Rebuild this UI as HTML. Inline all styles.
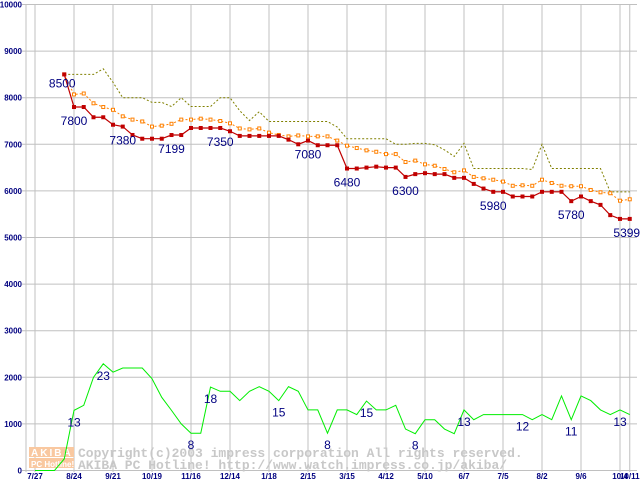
<!DOCTYPE html>
<html><head><meta charset="utf-8"><style>
html,body{margin:0;padding:0;background:#fff;}
svg{display:block;font-family:"Liberation Sans",sans-serif;}
</style></head><body>
<svg id="chart" width="640" height="480" viewBox="0 0 640 480" xmlns="http://www.w3.org/2000/svg">
<g id="grid"></g>
<g id="wm">
  <rect x="29" y="447" width="45" height="10" fill="#f9c8a0"/>
  <rect x="29" y="458" width="45" height="10" fill="#f9c8a0"/>
  <text x="31" y="456" font-size="10" font-weight="bold" fill="#fff" letter-spacing="2">AKIBA</text>
  <text x="31" y="467" font-size="8" font-weight="bold" fill="#fff">PC Hotline!</text>
  <text x="78" y="457" font-size="13" font-family="Liberation Mono, monospace" fill="#c8c8c8" font-weight="bold">Copyright(c)2003 impress corporation All rights reserved.</text>
  <text x="78" y="469" font-size="13" font-family="Liberation Mono, monospace" fill="#c8c8c8" font-weight="bold">AKIBA PC Hotline!  http://www.watch.impress.co.jp/akiba/</text>
</g>
<g id="series"></g>
<g id="labels"></g>
</svg>
<script>
const xTickWeeks = [0,4,8,12,16,20,24,28,32,36,40,44,48,52,56,60,61];
const xTickLabels = ["7/27","8/24","9/21","10/19","11/16","12/14","1/18","2/15","3/15","4/12","5/10","6/7","7/5","8/2","9/6","10/4","10/11"];
const yTicks = [0,1000,2000,3000,4000,5000,6000,7000,8000,9000,10000];
const lowStart = 3;
const lowPrice = [8500,7800,7800,7580,7580,7420,7380,7200,7120,7120,7120,7199,7199,7350,7350,7350,7350,7280,7180,7180,7180,7180,7180,7100,7000,7080,6980,6980,6980,6480,6480,6500,6520,6500,6500,6300,6360,6380,6360,6360,6280,6280,6150,6050,5980,5980,5880,5880,5880,5980,5980,5980,5780,5880,5780,5700,5480,5399,5399];
const avgPrice = [8500,8070,8090,7880,7800,7740,7600,7530,7490,7380,7400,7440,7530,7530,7550,7530,7500,7450,7340,7320,7340,7250,7200,7170,7190,7170,7170,7170,7080,6970,6920,6870,6840,6790,6790,6620,6650,6570,6540,6470,6400,6440,6300,6270,6240,6200,6110,6120,6110,6240,6170,6110,6100,6100,6020,5970,5950,5790,5820];
const highPrice = [8500,8500,8500,8500,8620,8330,8000,8000,8000,7900,7900,7810,8000,7810,7810,7810,8000,8000,7720,7510,7700,7490,7490,7490,7490,7490,7490,7490,7370,7120,7120,7120,7120,7120,7000,7000,7020,7020,6990,6880,6740,7020,6480,6480,6480,6480,6480,6480,6460,7000,6480,6480,6480,6480,6480,6480,5980,5980,5980];
const shopCount = [0,0,0,250,1290,1400,2000,2290,2110,2200,2200,2200,1970,1570,1290,1000,800,800,1790,1700,1700,1500,1700,1800,1700,1500,1800,1700,1300,1300,800,1300,1300,1200,1490,1300,1300,1400,890,790,1090,1090,890,790,1300,1090,1200,1200,1200,1200,1200,1090,1200,1090,1600,1090,1600,1500,1300,1200,1300,1200];
const priceLabelWeeks = [3,4,9,14,19,28,32,38,47,55,61];
const priceLabelText = ["8500","7800","7380","7199","7350","7080","6480","6300","5980","5780","5399"];
const countLabelWeeks = [4,7,16,18,25,30,34,39,44,50,55,60];
const countLabelText = ["13","23","8","18","15","8","15","8","13","12","11","13"];

const NS = "http://www.w3.org/2000/svg";
const X = w => 35 + 9.75 * w;
const Y = v => 4.5 + (10000 - v) * 0.0466;
function mk(tag, attrs, parent){const e=document.createElementNS(NS,tag);for(const k in attrs)e.setAttribute(k,attrs[k]);parent.appendChild(e);return e;}
const grid = document.getElementById('grid'), series = document.getElementById('series'), labels = document.getElementById('labels');

yTicks.forEach(v=>{
  const l = mk('line',{x1:22,x2:637,y1:Y(v),y2:Y(v),stroke:'#c0c0c0','stroke-width':1},grid);
  
  
  const t = mk('text',{x:22,y:Y(v)+3,'text-anchor':'end','font-size':8,'font-weight':'bold',fill:'#000080'},grid);
  t.textContent = v;
  
  
});
const ax = mk('line',{x1:26,x2:26,y1:4,y2:472,stroke:'#c0c0c0','stroke-width':1},grid);


xTickWeeks.forEach((w,i)=>{
  const l = mk('line',{x1:X(w),x2:X(w),y1:4,y2:472,stroke:'#c0c0c0','stroke-width':1},grid);
  
  
  const t = mk('text',{x:X(w),y:479,'text-anchor':'middle','font-size':8,'font-weight':'bold',fill:'#000080'},grid);
  t.textContent = xTickLabels[i];
  
  
});

function pts(arr,start){return arr.map((v,i)=>X(start+i)+','+Y(v)).join(' ');}
const hi = mk('polyline',{points:pts(highPrice,lowStart),fill:'none',stroke:'#808000','stroke-width':1,'stroke-dasharray':'2,2'},series);


const av = mk('polyline',{points:pts(avgPrice,lowStart),fill:'none',stroke:'#ff8000','stroke-width':1,'stroke-dasharray':'2,2'},series);


avgPrice.forEach((v,i)=>{
  const r = mk('rect',{x:X(lowStart+i)-1.5,y:Y(v)-1.5,width:3,height:3,fill:'#fff',stroke:'#ff8000','stroke-width':1},series);
  
  
});
const lo = mk('polyline',{points:pts(lowPrice,lowStart),fill:'none',stroke:'#c00000','stroke-width':1.2},series);


lowPrice.forEach((v,i)=>{
  const r = mk('rect',{x:X(lowStart+i)-2,y:Y(v)-2,width:4,height:4,fill:'#c00000'},series);
  
  
});
const gc = mk('polyline',{points:pts(shopCount,0),fill:'none',stroke:'#00ee00','stroke-width':1},series);



priceLabelWeeks.forEach((w,i)=>{
  const dx = i===0 ? -2 : (i===priceLabelWeeks.length-1 ? -3 : 0);
  const t = mk('text',{x:X(w)+dx,y:Y(lowPrice[w-lowStart])+(i===0?13:18),'text-anchor':'middle','font-size':12,fill:'#000080'},labels);
  t.textContent = priceLabelText[i];
  
  
});
countLabelWeeks.forEach((w,i)=>{
  const t = mk('text',{x:X(w),y:Y(shopCount[w])+16,'text-anchor':'middle','font-size':12,fill:'#000080'},labels);
  t.textContent = countLabelText[i];
  
  
});
</script>
</body></html>
